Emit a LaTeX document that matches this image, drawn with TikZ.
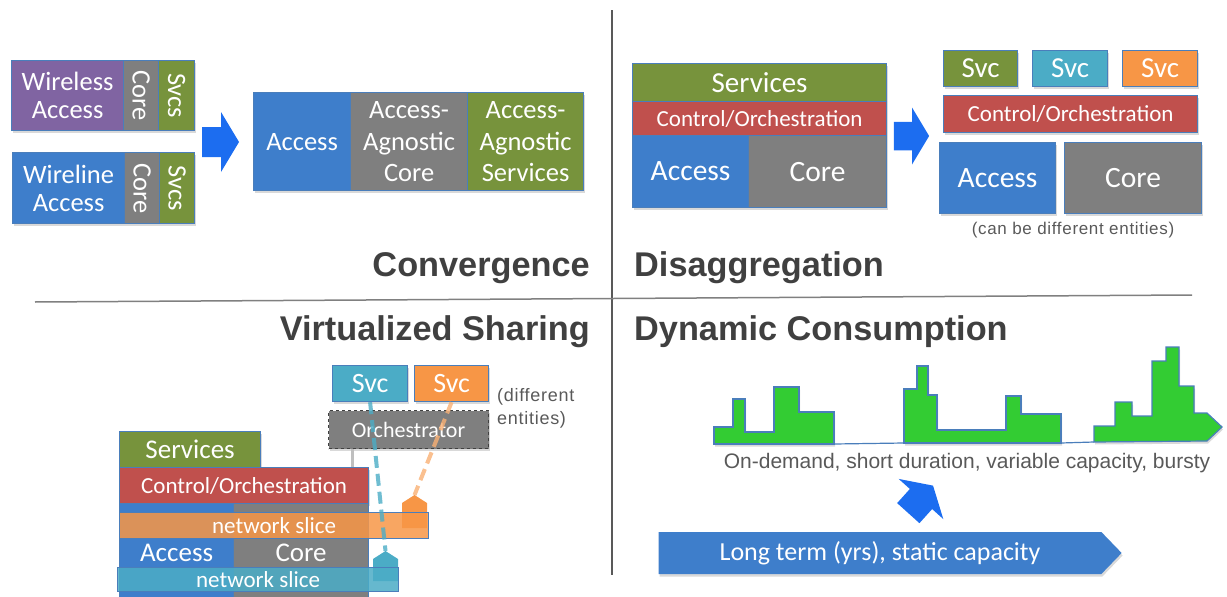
\documentclass[tikz,border=0pt]{standalone}
\usepackage{fontspec}
\usepackage{graphicx}
\setmainfont{Carlito}
\newfontfamily\arialfont{Liberation Sans}
\newfontfamily\notefont[LetterSpace=4]{Liberation Sans}
\usetikzlibrary{shadows,shapes.symbols}

\definecolor{accblue}{HTML}{3E7ECB}
\definecolor{coregray}{HTML}{7F7F7F}
\definecolor{svcgreen}{HTML}{77933C}
\definecolor{ctlred}{HTML}{C0504D}
\definecolor{wlpurple}{HTML}{8064A2}
\definecolor{svccyan}{HTML}{4BACC6}
\definecolor{svcorange}{HTML}{F79646}
\definecolor{edgeblue}{HTML}{4A7EBB}
\definecolor{arrowblue}{HTML}{1C6DF0}
\definecolor{burstgreen}{HTML}{33CC33}
\definecolor{titlegray}{HTML}{404040}
\definecolor{notegray}{HTML}{595959}

\newcommand{\fsz}[2]{\fontsize{#1}{#2}\selectfont}

\tikzset{
  blk/.style={draw=edgeblue, line width=1.2pt, inner sep=0pt, anchor=north west,
    text=white, align=center},
  shad/.style={drop shadow={opacity=0.3, shadow xshift=1pt, shadow yshift=-2.5pt}},
  title/.style={font=\arialfont\bfseries\fsz{34.3}{40}, text=titlegray, inner sep=0pt},
  note/.style={font=\notefont\fsz{17}{22}, text=notegray, inner sep=0pt},
  divider/.style={draw=black!65, line width=1.1pt},
  slice/.style={blk, fill opacity=0.85, text opacity=1, font=\fsz{23}{26}},
  link/.style={line width=4pt, dash pattern=on 12pt off 6pt, opacity=0.8},
  pics/blkarrow/.style={code={
    \fill[arrowblue] (-19,-15) -- (0,-15) -- (0,-30) -- (18,0) -- (0,30)
      -- (0,15) -- (-19,15) -- cycle;}}
}

\begin{document}
\begin{tikzpicture}[x=1pt, y=-1pt]
\useasboundingbox (0,0) rectangle (1227,597);

% quadrant lines
\draw[divider] (612,10) -- (612,575);
\draw[divider, draw=black!50, line width=1.5pt] (35,302) -- (1192,295);

% titles
\node[title, anchor=east] (tConv) at (590,268) {Convergence};
\node[title, anchor=west] (tDis) at (634,268) {Disaggregation};
\node[title, anchor=east] (tVirt) at (590,332) {Virtualized Sharing};
\node[title, anchor=west] (tDyn) at (634,332) {Dynamic Consumption};

% --- convergence
\begin{scope}[every node/.append style={font=\fsz{26.5}{28}}]
  \node[blk, shad, fill=wlpurple, minimum width=112, minimum height=70] (wlAcc) at (11,60) {Wireless\\Access};
  \node[blk, shad, fill=coregray, minimum width=35, minimum height=70] (wlCore) at (123,60) {\rotatebox{-90}{Core}};
  \node[blk, shad, fill=svcgreen, minimum width=36, minimum height=70] (wlSvcs) at (158,60) {\rotatebox{-90}{Svcs}};
  \node[blk, shad, fill=accblue, minimum width=112, minimum height=71] (wdAcc) at (12,152) {Wireline\\Access};
  \node[blk, shad, fill=coregray, minimum width=35, minimum height=71] (wdCore) at (124,152) {\rotatebox{-90}{Core}};
  \node[blk, shad, fill=svcgreen, minimum width=35, minimum height=71] (wdSvcs) at (159,152) {\rotatebox{-90}{Svcs}};
\end{scope}
\pic at (221,142) {blkarrow};
\begin{scope}[every node/.append style={font=\fsz{26.5}{31.5}}]
  \node[blk, shad, fill=accblue, minimum width=97, minimum height=98] (cvAcc) at (253,92) {Access};
  \node[blk, shad, fill=coregray, minimum width=117, minimum height=98] (cvCore) at (350,92) {Access-\\Agnostic\\Core};
  \node[blk, shad, fill=svcgreen, minimum width=116, minimum height=98] (cvSvcs) at (467,92) {Access-\\Agnostic\\Services};
\end{scope}

% --- disaggregation
\node[blk, shad, fill=svcgreen, minimum width=254, minimum height=38, font=\fsz{29}{32}] (dgSvcs) at (632,63) {Services};
\node[blk, shad, fill=ctlred, minimum width=254, minimum height=34, font=\fsz{23}{26}] (dgCtl) at (632,101) {Control/Orchestration};
\node[blk, shad, fill=accblue, minimum width=116, minimum height=72, font=\fsz{29.5}{32}] (dgAcc) at (632,135) {Access};
\node[blk, shad, fill=coregray, minimum width=138, minimum height=72, font=\fsz{29.5}{32}] (dgCore) at (748,135) {Core};
\pic[scale=0.95] at (912,136) {blkarrow};
\begin{scope}[every node/.append style={font=\fsz{29}{32}}]
  \node[blk, shad, fill=svcgreen, minimum width=74, minimum height=36] (sgSvcA) at (943,50) {Svc};
  \node[blk, shad, fill=svccyan, minimum width=75, minimum height=36] (sgSvcB) at (1032,50) {Svc};
  \node[blk, shad, fill=svcorange, minimum width=75, minimum height=36] (sgSvcC) at (1122,50) {Svc};
  \node[blk, shad, fill=ctlred, minimum width=254, minimum height=37, font=\fsz{23}{26}] (sgCtl) at (943,95) {Control/Orchestration};
  \node[blk, shad, fill=accblue, minimum width=116, minimum height=71, font=\fsz{29.5}{32}] (sgAcc) at (939,142) {Access};
  \node[blk, shad, fill=coregray, minimum width=137, minimum height=71, font=\fsz{29.5}{32}] (sgCore) at (1064,142) {Core};
\end{scope}
\node[note] (sgNote) at (1073,230) {(can be different entities)};

% --- virtualized sharing
\node[blk, shad, fill=svccyan, minimum width=75, minimum height=36, font=\fsz{28}{30}] (vsSvcB) at (332,365) {Svc};
\node[blk, shad, fill=svcorange, minimum width=74, minimum height=36, font=\fsz{28}{30}] (vsSvcC) at (414,365) {Svc};
\node[note, font=\notefont\fsz{18}{23}, anchor=west, align=left] (vsNote) at (497,408) {(different\\entities)};
\node[blk, shad, fill=coregray, draw=black!75, dashed, line width=1pt, minimum width=160, minimum height=38, font=\fsz{22}{24}] (vsOrch) at (328,410) {Orchestrator};
\draw[black!25, line width=3pt] ([xshift=-56pt]vsOrch.south) -- ++(0,19);
\node[blk, shad, fill=svcgreen, minimum width=141, minimum height=36, font=\fsz{27}{30}] (vsSvcs) at (119,431) {Services};
\node[blk, shad, fill=ctlred, minimum width=249, minimum height=36, font=\fsz{23}{26}] (vsCtl) at (119,467) {Control/Orchestration};
\node[blk, fill=accblue, minimum width=114, minimum height=98, font=\fsz{27}{30}] (vsAcc) at (119,503) {Access};
\node[blk, fill=coregray, minimum width=135, minimum height=98, font=\fsz{27}{30}] (vsCore) at (233,503) {Core};

\coordinate (orTip) at (414.5,495);
\fill[svcorange] (orTip) -- ++(12.5,8) -- ++(0,25) -- ++(-25,0) -- ++(0,-25) -- cycle;
\node[slice, fill=svcorange, minimum width=309, minimum height=26] (vsSliceA) at (119,512) {network slice};
\coordinate (cyTip) at (385.5,551);
\fill[svccyan] (cyTip) -- ++(12.5,8) -- ++(0,22) -- ++(-25,0) -- ++(0,-22) -- cycle;
\node[slice, fill=svccyan, minimum width=281, minimum height=24] (vsSliceB) at (117,567) {network slice};

\draw[link, svccyan] (vsSvcB.south) -- (cyTip);
\draw[link, svcorange!75] (vsSvcC.south) -- (orTip);

% --- dynamic consumption
\begin{scope}[fill=burstgreen, draw=edgeblue, line width=1.2pt]
  \filldraw[shad] (714,444) -- (714,427) -- (733,427) -- (733,399) -- (745,399) -- (745,432)
    -- (774,432) -- (774,387) -- (799,387) -- (799,412) -- (834,412) -- (834,444) -- cycle;
  \filldraw[shad] (904,443) -- (904,389) -- (917,389) -- (917,366) -- (928,366) -- (928,395)
    -- (937,395) -- (937,430) -- (1006,430) -- (1006,396) -- (1021,396) -- (1021,414)
    -- (1061,414) -- (1061,443) -- cycle;
  \filldraw[shad] (1094,442) -- (1094,426) -- (1115,426) -- (1115,402) -- (1132,402) -- (1132,416)
    -- (1152,416) -- (1152,361) -- (1166,361) -- (1166,347) -- (1179,347) -- (1179,386)
    -- (1194,386) -- (1194,413) -- (1207,413) -- (1222,427) -- (1207,441) -- cycle;
  \draw (834,444) -- (904,443) (1061,443) -- (1094,442);
\end{scope}
\node[note, font=\arialfont\fsz{21}{24}] (dcNote) at (967,463) {On-demand, short duration, variable capacity, bursty};
\pic[rotate=48] at (921,499) {blkarrow};
\node[signal, signal to=east, signal pointer angle=92, shad, fill=accblue, inner sep=0pt,
  minimum width=463, minimum height=42, text=white, font=\fsz{26}{28}] (ltArrow) at (880,553)
  {Long term (yrs), static capacity};
\end{tikzpicture}
\end{document}
